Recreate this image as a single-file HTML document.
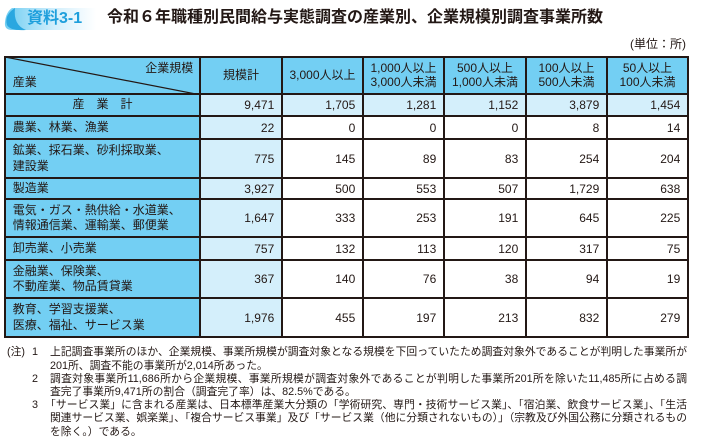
<!DOCTYPE html>
<html><head><meta charset="utf-8">
<style>
*{margin:0;padding:0;box-sizing:border-box}
html,body{width:703px;height:442px;background:#fff;overflow:hidden}
body{position:relative;font-family:"Liberation Sans","Noto Sans CJK JP",sans-serif;color:#231815}
.abs{position:absolute;white-space:nowrap}
#grid{position:absolute;left:4.25px;top:56.25px;background:#231815;padding:1.5px;display:grid;gap:1.5px;
grid-template-columns:193.5px 80.5px 79.5px 79.5px 80.5px 79.5px 79.5px;
grid-template-rows:35.5px 20.5px 21.5px 37.5px 19.5px 36.5px 21.5px 36.5px 37.5px;font-size:12px}
#grid>div{background:#fff;display:flex;align-items:center;position:relative}
.h{background:#73cff3!important;justify-content:center;text-align:center;line-height:13.5px}
.b{background:#73cff3!important;padding-left:7px;line-height:15.5px}
.l{background:#d4effb!important}
.n{justify-content:flex-end;padding-right:7px}
.note{position:absolute;font-size:10.8px;line-height:13.2px;white-space:nowrap}
.j{width:637px;text-align:justify;text-align-last:justify;white-space:normal;overflow:hidden;height:13.2px}
</style></head><body>
<svg class="abs" style="left:0;top:0" width="110" height="36">
<defs><linearGradient id="g" x1="0" x2="1" y1="0" y2="0">
<stop offset="0" stop-color="#6fcdf2"/><stop offset="0.55" stop-color="#d3effc"/><stop offset="1" stop-color="#ffffff"/></linearGradient></defs>
<path d="M12 8 H96 V30 H12 Q4 30 5 22 Q6 12 12 8 Z" fill="url(#g)"/>
<path d="M15 8 Q4 15 7 25 Q10 31 26 30 Q13 25 15 8 Z" fill="#2aa7e0"/>
</svg>
<div class="abs" style="left:27px;top:8px;font-size:16px;line-height:22px;font-weight:bold;color:#1e9fdc">資料3-1</div>
<div class="abs" style="left:107px;top:8px;font-size:16px;line-height:20px;font-weight:bold;color:#231815">令和６年職種別民間給与実態調査の産業別、企業規模別調査事業所数</div>
<div class="abs" style="left:630px;top:37px;font-size:12px;line-height:15px">(単位：所)</div>

<div id="grid">
<div class="h" style="display:block">
<svg style="position:absolute;left:-1px;top:-1px" width="196" height="38" viewBox="0 0 196 38" preserveAspectRatio="none"><line x1="0" y1="0" x2="196" y2="38" stroke="#231815" stroke-width="1.2"/></svg>
<span style="position:absolute;right:6px;top:4px">企業規模</span>
<span style="position:absolute;left:7px;top:18px">産業</span>
</div>
<div class="h">規模計</div>
<div class="h">3,000人以上</div>
<div class="h">1,000人以上<br>3,000人未満</div>
<div class="h">500人以上<br>1,000人未満</div>
<div class="h">100人以上<br>500人未満</div>
<div class="h">50人以上<br>100人未満</div>

<div class="h">産　業　計</div>
<div class="l n">9,471</div><div class="l n">1,705</div><div class="l n">1,281</div><div class="l n">1,152</div><div class="l n">3,879</div><div class="l n">1,454</div>

<div class="b">農業、林業、漁業</div>
<div class="l n">22</div><div class="n">0</div><div class="n">0</div><div class="n">0</div><div class="n">8</div><div class="n">14</div>

<div class="b">鉱業、採石業、砂利採取業、<br>建設業</div>
<div class="l n">775</div><div class="n">145</div><div class="n">89</div><div class="n">83</div><div class="n">254</div><div class="n">204</div>

<div class="b">製造業</div>
<div class="l n">3,927</div><div class="n">500</div><div class="n">553</div><div class="n">507</div><div class="n">1,729</div><div class="n">638</div>

<div class="b">電気・ガス・熱供給・水道業、<br>情報通信業、運輸業、郵便業</div>
<div class="l n">1,647</div><div class="n">333</div><div class="n">253</div><div class="n">191</div><div class="n">645</div><div class="n">225</div>

<div class="b">卸売業、小売業</div>
<div class="l n">757</div><div class="n">132</div><div class="n">113</div><div class="n">120</div><div class="n">317</div><div class="n">75</div>

<div class="b">金融業、保険業、<br>不動産業、物品賃貸業</div>
<div class="l n">367</div><div class="n">140</div><div class="n">76</div><div class="n">38</div><div class="n">94</div><div class="n">19</div>

<div class="b">教育、学習支援業、<br>医療、福祉、サービス業</div>
<div class="l n">1,976</div><div class="n">455</div><div class="n">197</div><div class="n">213</div><div class="n">832</div><div class="n">279</div>
</div>

<div class="note" style="left:7px;top:346.4px">(注)</div>
<div class="note" style="left:32px;top:346.4px">1</div>
<div class="note j" style="left:50px;top:346.4px">上記調査事業所のほか、企業規模、事業所規模が調査対象となる規模を下回っていたため調査対象外であることが判明した事業所が</div>
<div class="note" style="left:50px;top:359.6px">201所、調査不能の事業所が2,014所あった。</div>
<div class="note" style="left:32px;top:372.8px">2</div>
<div class="note j" style="left:50px;top:372.8px">調査対象事業所11,686所から企業規模、事業所規模が調査対象外であることが判明した事業所201所を除いた11,485所に占める調</div>
<div class="note" style="left:50px;top:386px">査完了事業所9,471所の割合（調査完了率）は、82.5%である。</div>
<div class="note" style="left:32px;top:399.2px">3</div>
<div class="note j" style="left:45px;top:399.2px;width:642px">「サービス業」に含まれる産業は、日本標準産業大分類の「学術研究、専門・技術サービス業」、「宿泊業、飲食サービス業」、「生活</div>
<div class="note j" style="left:50px;top:412.4px">関連サービス業、娯楽業」、「複合サービス事業」及び「サービス業（他に分類されないもの）」（宗教及び外国公務に分類されるもの</div>
<div class="note" style="left:50px;top:425.6px">を除く。）である。</div>
</body></html>
